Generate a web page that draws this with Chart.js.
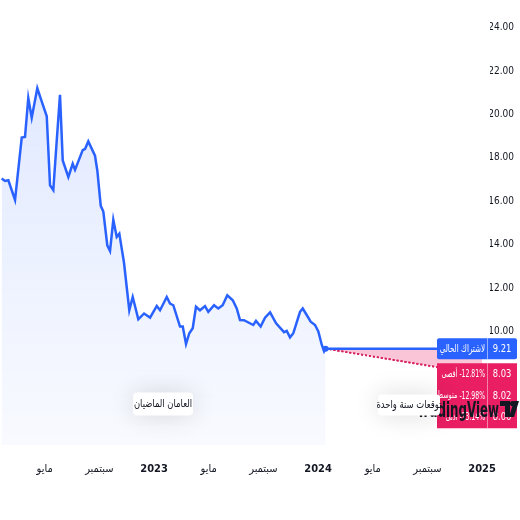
<!DOCTYPE html>
<html lang="ar">
<head>
    <meta charset="UTF-8">
    <title>توقعات السعر</title>
    <script src="https://cdn.jsdelivr.net/npm/chart.js"></script>
    <style>
        html, body { margin: 0; padding: 0; background: #ffffff; }
        #wrap { width: 520px; height: 520px; position: relative; }
    </style>
</head>
<body>
<div id="wrap"><canvas id="priceChart" width="520" height="520"></canvas></div>
<script>
    // months since Jan 2022
    const monthOffsets = [0.85, 1.10, 1.34, 1.83, 2.32, 2.56, 2.80, 3.05, 3.46, 3.78, 4.15, 4.39, 4.63, 4.88,
        5.12, 5.32, 5.73, 6.05, 6.22, 6.78, 6.95, 7.19, 7.68, 7.85, 8.10, 8.29, 8.58, 8.78, 9.02, 9.27,
        9.46, 9.80, 10.19, 10.44, 10.85, 11.27, 11.51, 11.71, 12.20, 12.44, 12.93, 13.17, 13.41, 13.90,
        14.10, 14.34, 14.58, 14.83, 15.07, 15.36, 15.73, 15.97, 16.39, 16.70, 17.02, 17.36, 17.76, 18.05,
        18.29, 18.58, 19.26, 19.46, 19.80, 20.12, 20.49, 20.93, 21.51, 21.71, 21.95, 22.19, 22.68, 22.88,
        23.17, 23.46, 23.78, 24.02, 24.27, 24.44, 24.55];
    const prices = [17.05, 16.94, 16.97, 16.06, 18.94, 18.97, 20.76, 19.85, 21.21, 20.60, 19.92, 16.74, 16.52, 18.79,
        20.91, 17.88, 17.12, 17.73, 17.45, 18.36, 18.41, 18.76, 18.10, 17.42, 15.79, 15.53, 13.97, 13.71, 15.15, 14.36,
        14.51, 13.18, 10.98, 11.59, 10.56, 10.83, 10.73, 10.64, 11.18, 10.98, 11.59, 11.29, 11.21, 10.23,
        10.23, 9.42, 9.92, 10.15, 11.14, 10.98, 11.17, 10.91, 11.21, 11.06, 11.21, 11.67, 11.44, 11.06,
        10.53, 10.52, 10.30, 10.49, 10.23, 10.64, 10.88, 10.38, 9.97, 10.03, 9.73, 9.92, 10.91, 11.06,
        10.76, 10.45, 10.30, 10.00, 9.39, 9.09, 9.21];

    const currentPrice = 9.21;
    const currentLabel = 'لاشتراك الحالي';
    const forecastEnd = 36;
    const forecastLabels = ['أقصى', 'متوسط', 'أدنى'];
    const forecastValues = [8.03, 8.02, 8.00];
    const forecastChanges = ['-12.81%', '-12.98%', '-13.14%'];

    const xTickValues = [4, 8, 12, 16, 20, 24, 28, 32, 36];
    const xTickLabels = ['مايو', 'سبتمبر', '2023', 'مايو', 'سبتمبر', '2024', 'مايو', 'سبتمبر', '2025'];
    const yTickValues = [10, 12, 14, 16, 18, 20, 22, 24];

    const BLUE = '#2962ff';
    const PINK = '#e91e63';
    const FONT = "'DejaVu Sans Condensed', 'Liberation Sans Narrow', 'DejaVu Sans', sans-serif";

    const history = monthOffsets.map((m, i) => ({ x: m, y: prices[i] }));
    const lastX = monthOffsets[monthOffsets.length - 1];
    const currentLine = [{ x: lastX, y: currentPrice }, { x: forecastEnd, y: currentPrice }];
    const forecastSets = forecastValues.map((v, i) => ({
        data: [{ x: lastX, y: currentPrice }, { x: forecastEnd, y: v }],
        borderColor: '#d6245f',
        borderWidth: 1.5,
        borderDash: [2, 2],
        pointRadius: 0,
        fill: i === 0 ? { target: 1 } : false,
        backgroundColor: 'rgba(240, 90, 140, 0.35)',
        order: 3
    }));

    function roundRect(c, x, y, w, h, r) {
        c.beginPath();
        c.moveTo(x + r, y);
        c.lineTo(x + w - r, y);
        c.quadraticCurveTo(x + w, y, x + w, y + r);
        c.lineTo(x + w, y + h - r);
        c.quadraticCurveTo(x + w, y + h, x + w - r, y + h);
        c.lineTo(x + r, y + h);
        c.quadraticCurveTo(x, y + h, x, y + h - r);
        c.lineTo(x, y + r);
        c.quadraticCurveTo(x, y, x + r, y);
        c.closePath();
    }

    // narrow text like the original screenshot, returns drawn width
    function narrowText(c, text, x, y, size, weight, color, align, squeeze, baseline) {
        c.save();
        c.font = weight + ' ' + size + 'px ' + FONT;
        c.fillStyle = color;
        c.textBaseline = baseline || 'middle';
        c.textAlign = align;
        c.direction = 'ltr';
        c.translate(x, y);
        c.scale(squeeze, 1);
        c.fillText(text, 0, 0);
        const w = c.measureText(text).width * squeeze;
        c.restore();
        return w;
    }

    function pill(c, text, cx, cy, w, h) {
        c.save();
        c.shadowColor = 'rgba(0,0,0,0.14)';
        c.shadowBlur = 26;
        c.fillStyle = '#ffffff';
        roundRect(c, cx - w / 2, cy - h / 2, w, h, 4);
        c.fill();
        c.restore();
        narrowText(c, text, cx, cy, 11, 'normal', '#131722', 'center', 0.85);
    }

    const overlayPlugin = {
        id: 'overlay',
        afterDraw(chart) {
            const c = chart.ctx;
            const ys = chart.scales.y;
            const xs = chart.scales.x;

            // end dot
            c.save();
            c.fillStyle = BLUE;
            c.beginPath();
            c.arc(xs.getPixelForValue(lastX), ys.getPixelForValue(currentPrice), 3, 0, Math.PI * 2);
            c.fill();
            c.restore();

            // current price label
            const yCur = ys.getPixelForValue(currentPrice);
            c.fillStyle = BLUE;
            roundRect(c, 437, yCur - 10.5, 80, 21, 2);
            c.fill();
            c.fillStyle = 'rgba(255,255,255,0.5)';
            c.fillRect(487, yCur - 10.5, 1, 21);
            narrowText(c, currentLabel, 485, yCur, 11, 'normal', '#ffffff', 'right', 0.72);
            narrowText(c, currentPrice.toFixed(2), 502, yCur, 11, 'normal', '#ffffff', 'center', 0.85);

            // forecast labels
            const y0 = ys.getPixelForValue(forecastValues[0]);
            forecastValues.forEach((v, i) => {
                const yy = y0 + i * 21.5;
                c.fillStyle = PINK;
                c.fillRect(437, yy - 11, 80, 22);
                c.fillStyle = 'rgba(255,255,255,0.45)';
                c.fillRect(487, yy - 11, 1, 22);
                c.save();
                c.beginPath();
                c.rect(437, yy - 11, 50, 22);
                c.clip();
                const pw = narrowText(c, forecastChanges[i], 485, yy, 11, 'normal', '#ffffff', 'right', 0.62);
                narrowText(c, forecastLabels[i], 485 - pw - 2, yy, 10, 'normal', '#ffffff', 'right', 0.72);
                c.restore();
                narrowText(c, v.toFixed(2), 502, yy, 11, 'normal', '#ffffff', 'center', 0.85);
            });

            // TradingView watermark
            narrowText(c, 'TradingView', 499, 417, 22, 'bold', '#131722', 'right', 0.6, 'alphabetic');
            c.save();
            c.fillStyle = '#131722';
            c.fillRect(500, 401, 10, 5);
            c.fillRect(505, 401, 5, 16);
            c.beginPath();
            c.arc(512.5, 403.5, 2.6, 0, Math.PI * 2);
            c.fill();
            c.beginPath();
            c.moveTo(514, 401);
            c.lineTo(519, 401);
            c.lineTo(514, 417);
            c.lineTo(509, 417);
            c.closePath();
            c.fill();
            c.restore();

            // section captions
            pill(c, 'العامان الماضيان', 163, 404, 60, 23);
            pill(c, 'توقعات سنة واحدة', 409, 405, 62, 21);
        }
    };

    new Chart(document.getElementById('priceChart'), {
        type: 'line',
        data: {
            datasets: [
                {
                    data: history,
                    borderColor: BLUE,
                    borderWidth: 2.5,
                    pointRadius: 0,
                    tension: 0,
                    fill: 'start',
                    backgroundColor: (ctx) => {
                        const area = ctx.chart.chartArea;
                        if (!area) return 'rgba(41,98,255,0.08)';
                        const g = ctx.chart.ctx.createLinearGradient(0, area.top, 0, area.bottom);
                        g.addColorStop(0, 'rgba(41,98,255,0.16)');
                        g.addColorStop(1, 'rgba(41,98,255,0.03)');
                        return g;
                    },
                    order: 1
                },
                {
                    data: currentLine,
                    borderColor: BLUE,
                    borderWidth: 2.5,
                    pointRadius: 0,
                    fill: false,
                    order: 2
                },
                ...forecastSets
            ]
        },
        options: {
            responsive: false,
            animation: false,
            layout: { padding: { right: 6, left: 0, top: 0, bottom: 0 } },
            plugins: { legend: { display: false }, tooltip: { enabled: false } },
            scales: {
                x: {
                    type: 'linear',
                    min: 0.73,
                    max: 36.58,
                    grid: { display: false },
                    border: { display: false },
                    afterBuildTicks: (axis) => { axis.ticks = xTickValues.map(v => ({ value: v })); },
                    afterFit: (axis) => { axis.height = 75; },
                    ticks: {
                        maxRotation: 0,
                        autoSkip: false,
                        padding: 10,
                        color: '#131722',
                        font: (ctx) => ({
                            family: FONT,
                            size: 11,
                            weight: ctx.tick && ctx.tick.value % 12 === 0 ? 'bold' : 'normal'
                        }),
                        callback: (v) => xTickLabels[xTickValues.indexOf(v)]
                    }
                },
                y: {
                    position: 'right',
                    min: 4.77,
                    max: 25,
                    grid: { display: false },
                    border: { display: false },
                    afterBuildTicks: (axis) => { axis.ticks = yTickValues.map(v => ({ value: v })); },
                    afterFit: (axis) => { axis.width = 24; },
                    ticks: {
                        crossAlign: 'far',
                        padding: 0,
                        color: '#131722',
                        font: { family: FONT, size: 10 },
                        callback: (v) => v.toFixed(2)
                    }
                }
            }
        },
        plugins: [overlayPlugin]
    });
</script>
</body>
</html>
